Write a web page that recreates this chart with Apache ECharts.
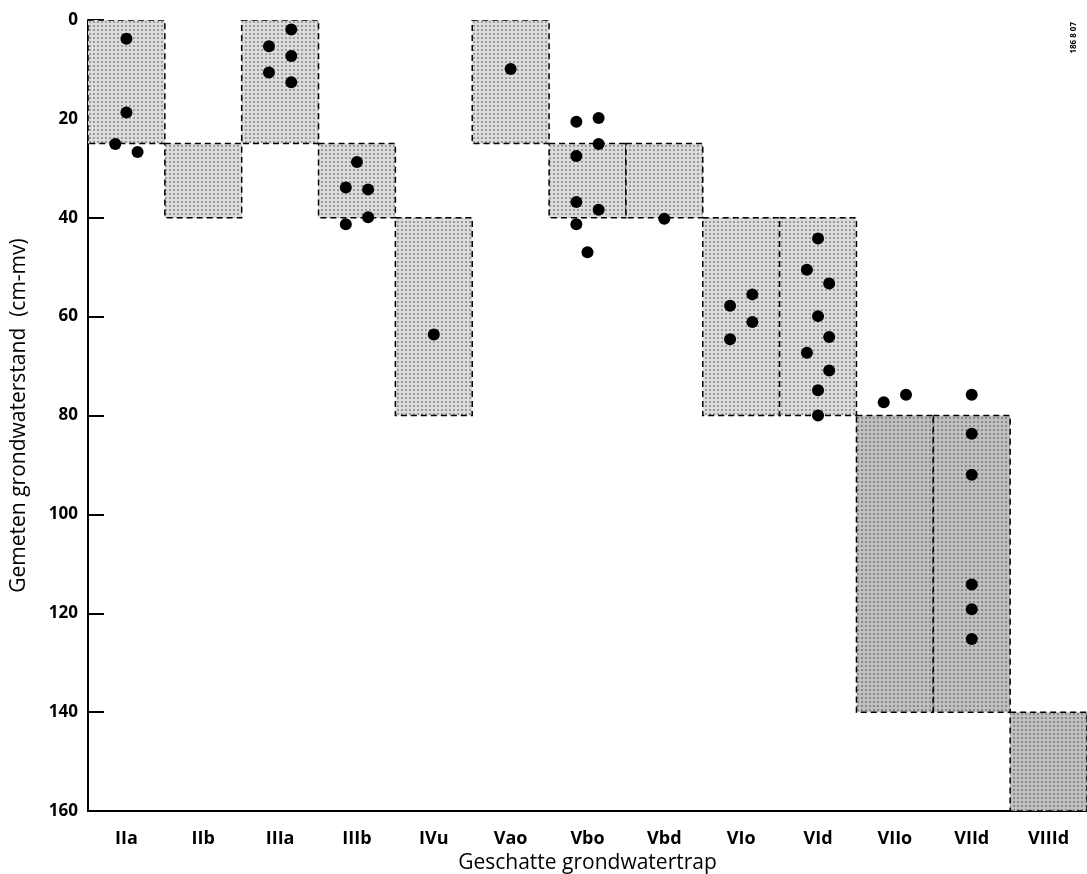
<!DOCTYPE html>
<html>
<head>
<meta charset="utf-8">
<script src="https://cdn.jsdelivr.net/npm/echarts@6/dist/echarts.min.js"></script>
<style>
  html, body { margin: 0; padding: 0; background: #fff; }
  #chart { width: 1087px; height: 874px; }
</style>
</head>
<body>
<div id="chart"></div>
<script>
// grondwatertrappen (categories)
var categories = ['IIa', 'IIb', 'IIIa', 'IIIb', 'IVu', 'Vao', 'Vbo', 'Vbd', 'VIo', 'VId', 'VIIo', 'VIId', 'VIIId'];
// range of each Gt class (cm-mv)
var boxTop    = [0, 25, 0, 25, 40, 0, 25, 25, 40, 40, 80, 80, 140];
var boxBottom = [25, 40, 25, 40, 80, 25, 40, 40, 80, 80, 140, 140, 160];
// measured points: [category index, depth cm-mv, side (-1 left, 0 mid, 1 right)]
var points = [
  [0, 3.8, 0], [0, 18.7, 0], [0, 25.1, -1], [0, 26.7, 1],
  [2, 1.9, 1], [2, 5.3, -1], [2, 7.3, 1], [2, 10.6, -1], [2, 12.6, 1],
  [3, 28.7, 0], [3, 33.9, -1], [3, 34.3, 1], [3, 39.9, 1], [3, 41.3, -1],
  [4, 63.6, 0],
  [5, 9.9, 0],
  [6, 20.6, -1], [6, 19.8, 1], [6, 25.1, 1], [6, 27.5, -1], [6, 36.8, -1], [6, 38.4, 1], [6, 41.3, -1], [6, 47.0, 0],
  [7, 40.2, 0],
  [8, 55.5, 1], [8, 57.8, -1], [8, 61.1, 1], [8, 64.6, -1],
  [9, 44.2, 0], [9, 50.5, -1], [9, 53.3, 1], [9, 59.9, 0], [9, 64.1, 1], [9, 67.3, -1], [9, 70.9, 1], [9, 74.9, 0], [9, 80.0, 0],
  [10, 77.3, -1], [10, 75.8, 1],
  [11, 75.8, 0], [11, 83.7, 0], [11, 92.0, 0], [11, 114.2, 0], [11, 119.2, 0], [11, 125.2, 0]
];
var yTicks = [0, 20, 40, 60, 80, 100, 120, 140, 160];

function stipple(bg, dot) {
  var c = document.createElement('canvas');
  c.width = 4; c.height = 4;
  var g = c.getContext('2d');
  g.fillStyle = bg; g.fillRect(0, 0, 4, 4);
  g.fillStyle = dot; g.fillRect(1, 1, 2, 2);
  return { image: c, repeat: 'repeat' };
}
var lightFill = stipple('#dcdcdc', '#9c9c9c');
var darkFill = stipple('#c0c0c0', '#8a8a8a');

var boxData = categories.map(function (c, i) { return [i, boxTop[i], boxBottom[i]]; });
var sideStep = 0.145;
var dotData = points.map(function (p) { return [p[0] + 0.5 + p[2] * sideStep, p[1]]; });

var chart = echarts.init(document.getElementById('chart'));
var font = '"Open Sans", "Noto Sans", sans-serif';
chart.setOption({
  animation: false,
  grid: { left: 88, right: 0, top: 20, bottom: 63, containLabel: false, outerBoundsMode: 'none' },
  xAxis: [{
    type: 'category',
    data: categories,
    boundaryGap: true,
    name: 'Geschatte grondwatertrap',
    nameLocation: 'middle',
    nameGap: 39,
    nameTextStyle: { color: '#000', fontSize: 21, fontFamily: font },
    axisLine: { onZero: false, lineStyle: { color: '#000', width: 2 } },
    axisTick: { length: 11, interval: 0, lineStyle: { color: '#000', width: 1.5 } },
    axisLabel: { color: '#000', fontSize: 18, fontWeight: 'bold', fontFamily: font, margin: 19, interval: 0 },
    splitLine: { show: false }
  }, {
    type: 'value', min: 0, max: 13, show: false
  }],
  yAxis: {
    type: 'value',
    inverse: true,
    min: 0, max: 160, interval: 20,
    name: 'Gemeten grondwaterstand  (cm-mv)',
    nameLocation: 'middle',
    nameGap: 58,
    nameTextStyle: { color: '#000', fontSize: 21, fontFamily: font },
    axisLine: { show: true, onZero: false, lineStyle: { color: '#000', width: 2 } },
    axisTick: { show: true, inside: true, length: 16, lineStyle: { color: '#000', width: 2 } },
    axisLabel: {
      color: '#000', fontSize: 17, fontWeight: 'bold', fontFamily: font, margin: 10,
      formatter: function (v) { return yTicks.indexOf(v) >= 0 ? String(v) : ''; }
    },
    splitLine: { show: false }
  },
  series: [{
    type: 'custom',
    xAxisIndex: 1,
    data: boxData,
    clip: true,
    renderItem: function (params, api) {
      var i = api.value(0);
      var p0 = api.coord([i, api.value(1)]);
      var p1 = api.coord([i + 1, api.value(2)]);
      return {
        type: 'rect',
        shape: { x: p0[0], y: p0[1], width: p1[0] - p0[0], height: p1[1] - p0[1] },
        style: {
          fill: api.value(1) >= 80 ? darkFill : lightFill,
          stroke: '#000',
          lineWidth: 1.5,
          lineDash: [6, 4]
        }
      };
    },
    z: 1
  }, {
    type: 'scatter',
    xAxisIndex: 1,
    data: dotData,
    symbol: 'circle',
    symbolSize: 12,
    itemStyle: { color: '#000', opacity: 1 },
    z: 3
  }],
  graphic: [{
    type: 'text',
    left: 1070,
    top: 22,
    rotation: Math.PI / 2,
    style: { text: '186 8 07', fill: '#000', fontSize: 8, fontWeight: 'bold', fontFamily: font }
  }]
});
</script>
</body>
</html>
